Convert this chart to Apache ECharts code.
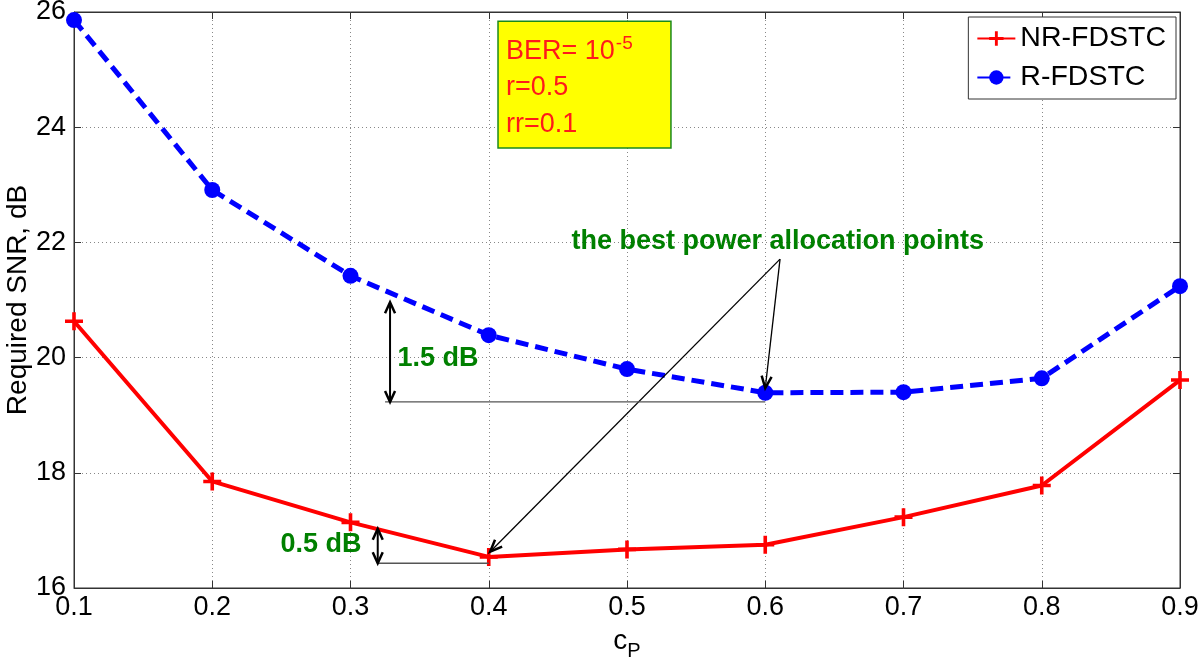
<!DOCTYPE html>
<html>
<head>
<meta charset="utf-8">
<script src="https://cdn.jsdelivr.net/npm/echarts@6/dist/echarts.min.js"></script>
<style>html,body{margin:0;padding:0;background:#fff}#c{width:1200px;height:665px}</style>
</head>
<body>
<div id="c"></div>
<script>
const cp = [0.1, 0.2, 0.3, 0.4, 0.5, 0.6, 0.7, 0.8, 0.9];
const nrFdstc = [20.63, 17.85, 17.14, 16.54, 16.67, 16.75, 17.23, 17.78, 19.61];
const rFdstc = [25.86, 22.91, 21.42, 20.39, 19.80, 19.39, 19.40, 19.64, 21.24];
const seriesNames = ['NR-FDSTC', 'R-FDSTC'];
const yTicks = [16, 18, 20, 22, 24, 26];
const xTicks = [0.1, 0.2, 0.3, 0.4, 0.5, 0.6, 0.7, 0.8, 0.9];

const FONT = 'Liberation Sans, Arial, Helvetica, sans-serif';
const chart = echarts.init(document.getElementById('c'));
const plusPath = 'path://M0,4L10,4L10,6L0,6ZM4,0L6,0L6,10L4,10Z';

const axisCommon = {
  axisLine: {show: true, lineStyle: {color: '#333', width: 1}},
  axisTick: {show: true, inside: true, length: 7, lineStyle: {color: '#333'}},
};

chart.setOption({
  animation: false,
  backgroundColor: '#fff',
  grid: {left: 74, right: 20, top: 12, bottom: 77, containLabel: false, outerBoundsMode: 'none',
         show: true, borderColor: '#333', borderWidth: 1, backgroundColor: '#fff'},
  legend: {
    orient: 'vertical', right: 24, top: 17,
    padding: [7, 10, 7, 8], itemGap: 10, itemWidth: 38, itemHeight: 18,
    borderColor: '#333', borderWidth: 1, backgroundColor: '#fff',
    textStyle: {fontSize: 28.5, fontFamily: FONT, color: '#000'},
    data: seriesNames
  },
  xAxis: [{
    type: 'value', min: xTicks[0], max: xTicks[xTicks.length - 1], interval: 0.1,
    ...axisCommon,
    axisLabel: {fontSize: 27, fontFamily: FONT, color: '#000', margin: 6, formatter: v => v.toFixed(1)},
    splitLine: {show: true, lineStyle: {type: [1, 3], color: '#888', width: 1}},
    name: '{c|c}{p|P}', nameLocation: 'middle', nameGap: 33, nameMoveOverlap: false,
    nameTextStyle: {rich: {c: {fontSize: 28, fontFamily: FONT, color: '#000'}, p: {fontSize: 20, fontFamily: FONT, color: '#000', padding: [20, 0, 0, 0]}}}
  }, {
    type: 'value', min: xTicks[0], max: xTicks[xTicks.length - 1], interval: 0.1, position: 'top',
    ...axisCommon, axisLabel: {show: false}, splitLine: {show: false}
  }],
  yAxis: [{
    type: 'value', min: yTicks[0], max: yTicks[yTicks.length - 1], interval: 2,
    ...axisCommon,
    axisLabel: {fontSize: 27, fontFamily: FONT, color: '#000', margin: 8},
    splitLine: {show: true, lineStyle: {type: [1, 3], color: '#888', width: 1}},
    name: 'Required SNR, dB', nameLocation: 'middle', nameGap: 42, nameMoveOverlap: false,
    nameTextStyle: {fontSize: 28, fontFamily: FONT, color: '#000'}
  }, {
    type: 'value', min: yTicks[0], max: yTicks[yTicks.length - 1], interval: 2, position: 'right',
    ...axisCommon, axisLabel: {show: false}, splitLine: {show: false}
  }],
  series: [{
    name: seriesNames[0], type: 'line',
    data: cp.map((x, i) => [x, nrFdstc[i]]),
    lineStyle: {color: '#ff0000', width: 4},
    itemStyle: {color: '#ff0000'},
    symbol: plusPath, symbolSize: 18, showAllSymbol: true, z: 3
  }, {
    name: seriesNames[1], type: 'line',
    data: cp.map((x, i) => [x, rFdstc[i]]),
    lineStyle: {color: '#0000ff', width: 5, type: [13, 7]},
    itemStyle: {color: '#0000ff'},
    symbol: 'circle', symbolSize: 16, showAllSymbol: true, z: 3
  }]
});

// Annotations placed in data coordinates
const P = (x, y) => chart.convertToPixel({xAxisIndex: 0, yAxisIndex: 0}, [x, y]);
const g = [];
function line(a, b, color, w) {
  g.push({type: 'line', shape: {x1: a[0], y1: a[1], x2: b[0], y2: b[1]}, style: {stroke: color, lineWidth: w}, z: 10});
}
function head(tip, from, len, hw, color) {
  const dx = tip[0] - from[0], dy = tip[1] - from[1];
  const L = Math.hypot(dx, dy), ux = dx / L, uy = dy / L;
  const bx = tip[0] - ux * len, by = tip[1] - uy * len;
  const px = -uy * hw, py = ux * hw;
  g.push({type: 'polyline', shape: {points: [[bx + px, by + py], tip, [bx - px, by - py]]}, style: {stroke: color, lineWidth: 2.5, fill: null}, z: 11});
}
function arrow(a, b) { line(a, b, '#000', 1.3); head(b, a, 12, 5, '#000'); }
function dblArrow(a, b) { line(a, b, '#000', 2); head(b, a, 11, 5, '#000'); head(a, b, 11, 5, '#000'); }
function text(t, p, opt) {
  g.push({type: 'text', x: p[0], y: p[1], z: 12, style: Object.assign({text: t, font: 'bold 27px ' + FONT, fill: '#008000', align: 'left', verticalAlign: 'middle'}, opt || {})});
}

// yellow parameter box
const b1 = P(0.4067, 25.84), b2 = P(0.5318, 23.64);
g.push({type: 'rect', shape: {x: b1[0], y: b1[1], width: b2[0] - b1[0], height: b2[1] - b1[1]}, style: {fill: '#ffff00', stroke: '#1a8a1a', lineWidth: 1.5}, z: 9});
const tb = P(0.4125, 25.31);
g.push({type: 'text', x: tb[0], y: tb[1], z: 12, style: {text: '{a|BER= 10}{s|-5}', verticalAlign: 'middle', rich: {a: {font: '27px ' + FONT, fill: '#ff1a1a'}, s: {font: '19px ' + FONT, fill: '#ff1a1a', padding: [0, 0, 16, 1]}}}});
text('r=0.5', P(0.4125, 24.69), {font: '27px ' + FONT, fill: '#ff1a1a'});
text('rr=0.1', P(0.4125, 24.04), {font: '27px ' + FONT, fill: '#ff1a1a'});

// best power allocation annotation
const apex = P(0.6107, 21.71);
text('the best power allocation points', P(0.609, 22.02), {align: 'center'});
arrow(apex, P(0.6, 19.47));
arrow(apex, P(0.401, 16.63));

// 1.5 dB gap
line(P(0.325, 19.23), P(0.6, 19.23), '#555', 1.3);
dblArrow(P(0.3286, 20.96), P(0.3286, 19.23));
text('1.5 dB', P(0.334, 19.99));

// 0.5 dB gap
line(P(0.3197, 16.43), P(0.4, 16.43), '#555', 1.3);
dblArrow(P(0.3197, 17.03), P(0.3197, 16.43));
text('0.5 dB', P(0.308, 16.75), {align: 'right'});

chart.setOption({graphic: g});
</script>
</body>
</html>
